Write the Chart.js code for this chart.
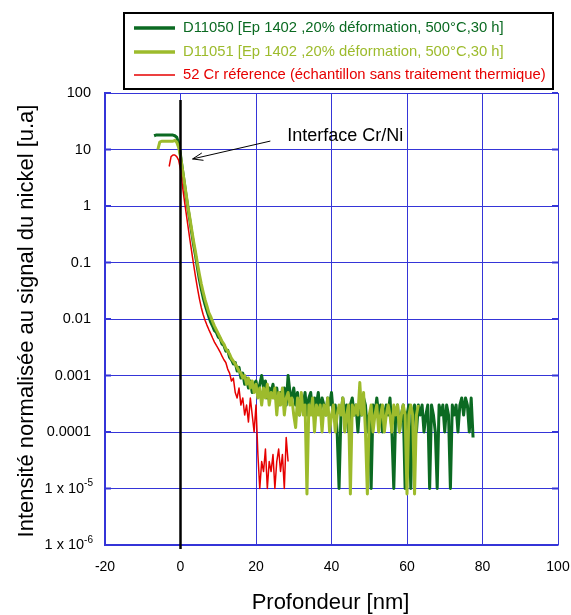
<!DOCTYPE html>
<html>
<head>
<meta charset="utf-8">
<script src="https://cdn.jsdelivr.net/npm/chart.js@4.4.1/dist/chart.umd.min.js"></script>
<style>
  html, body { margin: 0; padding: 0; background: #fff; }
  canvas { display: block; }
</style>
</head>
<body>
<canvas id="profileChart" width="571" height="615"></canvas>
<script>
// Depth profiles, one sample every 0.5 nm
const depthStep = 0.5;
const d11050Start = -7;
const d11051Start = -6;
const cr52Start = -3;

const d11050 = [
  17.5, 18, 18, 18, 18, 18, 18, 18, 18, 18, 18, 17.5, 16.5, 13,
  8, 4.5, 2.6, 1.5, 0.9, 0.55, 0.33, 0.2, 0.13, 0.08, 0.05, 0.034, 0.024, 0.018, 0.014, 0.011,
  0.0088, 0.0075, 0.0062, 0.0058, 0.0048, 0.0045, 0.0036, 0.0034, 0.0027, 0.0028, 0.0021, 0.0019,
  0.0016, 0.0017, 0.0012, 0.0014, 0.0009, 0.0011, 0.0007, 0.0009, 0.0006, 0.0008, 0.0005, 0.0007,
  0.0008, 0.0005, 0.0007, 0.001, 0.0006, 0.0008, 0.0004, 0.0006, 0.0005, 0.0007, 0.0004, 0.0006,
  0.0003, 0.0005, 0.0004, 0.0006, 0.0003, 0.001, 0.0005, 0.0004, 0.0006, 0.0003, 0.0005, 0.0002,
  0.0004, 0.0003, 0.0005, 0.0002, 0.0004, 0.0005, 0.0002, 0.0004, 0.0003, 0.0005, 0.0002, 0.0004,
  0.0003, 0.0002, 0.0004, 0.0003, 0.0005, 0.0002, 0.0003, 0.0001, 0.00001, 0.0002, 0.0004, 0.0002,
  0.0003, 0.0001, 0.0003, 0.0004, 0.0002, 0.0003, 0.0001, 0.0003, 0.0002, 0.0004, 0.0003, 0.0001,
  0.0002, 0.00001, 0.0003, 0.0002, 0.0004, 0.0002, 0.0003, 0.0001, 0.0002, 0.0003, 0.0002, 0.0004,
  0.0001, 0.00001, 0.0002, 0.0003, 0.0001, 0.0002, 0.0003, 0.00001, 0.0002, 0.0003, 0.00001, 0.0002,
  0.0003, 0.0001, 0.0003, 0.0002, 0.0003, 0.0001, 0.0002, 0.0003, 0.00001, 0.0003, 0.0002, 0.0001,
  0.00001, 0.0003, 0.0002, 0.0003, 0.0001, 0.0003, 0.0002, 0.00001, 0.0003, 0.0002, 0.0003, 0.0001,
  0.0003, 0.0004, 0.0002, 0.0004, 0.0003, 0.0001, 0.0004, 0.00008
];

const d11051 = [
  10, 13.5, 14, 14, 14, 14, 14, 14, 14, 14.5, 13.5, 11,
  7.5, 4.5, 2.7, 1.6, 0.95, 0.6, 0.37, 0.23, 0.15, 0.095, 0.062, 0.042, 0.03, 0.022, 0.017, 0.013,
  0.011, 0.009, 0.0075, 0.0064, 0.0055, 0.0047, 0.004, 0.0036, 0.003, 0.0027, 0.0024, 0.002,
  0.0018, 0.0016, 0.0014, 0.0012, 0.0011, 0.0009, 0.001, 0.0007, 0.0009, 0.0006, 0.0008, 0.0005,
  0.0007, 0.0004, 0.0006, 0.0003, 0.0006, 0.0004, 0.0007, 0.0003, 0.0005, 0.0004, 0.0006, 0.0002,
  0.0005, 0.0003, 0.0006, 0.0002, 0.0004, 0.0005, 0.0003, 0.0004, 0.0002, 0.00012, 0.0004, 0.0002,
  0.0005, 0.0002, 0.0003, 0.000008, 0.0003, 0.0002, 0.0004, 0.0001, 0.0003, 0.0002, 0.0003, 0.0001,
  0.0003, 0.0002, 0.0004, 0.0001, 0.0002, 0.0003, 0.0001, 0.0002, 0.0003, 0.0002, 0.0004, 0.0001,
  0.0002, 0.0003, 0.000008, 0.0003, 0.0002, 0.0003, 0.0002, 0.00075, 0.0002, 0.0005, 0.0001, 0.000008,
  0.0002, 0.0003, 0.0001, 0.0002, 0.0003, 0.0001, 0.0002, 0.0003, 0.0001, 0.0002, 0.0003, 0.0002,
  0.0001, 0.0003, 0.0002, 0.0003, 0.0001, 0.0002, 0.0003, 0.0002, 0.000008, 0.0002, 0.0003, 0.0002,
  0.000008, 0.0002, 0.0003
];

const cr52Ref = [
  5, 7.5, 8, 8, 7.5, 6.5,
  4.5, 2.3, 1.3, 0.75, 0.43, 0.25, 0.15, 0.09, 0.055, 0.035, 0.023, 0.016, 0.012, 0.0095,
  0.0078, 0.0065, 0.0055, 0.0046, 0.0039, 0.0034, 0.003, 0.0026, 0.0022, 0.0019, 0.0017, 0.0013,
  0.0011, 0.0008, 0.0009, 0.0005, 0.0004, 0.0006, 0.0003, 0.0004, 0.0002, 0.0003, 0.00015, 0.0004,
  0.0002, 0.0001, 0.0003, 0.00004, 0.00001, 0.00003, 0.00002, 0.00005, 0.00001, 0.00003, 0.00002,
  0.00004, 0.00001, 0.00003, 0.00005, 0.00002, 0.00004, 0.00001, 0.00008, 0.00003
];

const seriesLabels = [
  'D11050 [Ep 1402 ,20% déformation, 500°C,30 h]',
  'D11051 [Ep 1402 ,20% déformation, 500°C,30 h]',
  '52 Cr réference (échantillon sans traitement thermique)'
];
const seriesColors = ['#0b6a22', '#9dbb2c', '#e60000'];

const xTicks = [-20, 0, 20, 40, 60, 80, 100];
const yTicks = [1e-6, 1e-5, 1e-4, 1e-3, 0.01, 0.1, 1, 10, 100];
const yTickText = ['1 x 10', '1 x 10', '0.0001', '0.001', '0.01', '0.1', '1', '10', '100'];
const yTickSup = ['-6', '-5', '', '', '', '', '', '', ''];

const interfaceDepth = 0;
const interfaceLabel = 'Interface Cr/Ni';

function toPoints(start, values) {
  return values.map((v, i) => ({ x: start + i * depthStep, y: v }));
}

const FONT = '"Liberation Sans", Arial, sans-serif';
const gridBlue = '#3535d8';

// Axis labels, legend box and the interface marker
const decorations = {
  id: 'decorations',
  afterDraw(chart) {
    const ctx = chart.ctx;
    const xs = chart.scales.x;
    const ys = chart.scales.y;
    const area = chart.chartArea;
    ctx.save();

    // small inner tick marks on the left and right edges
    ctx.strokeStyle = gridBlue;
    ctx.lineWidth = 2;
    ctx.beginPath();
    yTicks.forEach(t => {
      const py = ys.getPixelForValue(t);
      ctx.moveTo(area.left, py); ctx.lineTo(area.left + 6, py);
      ctx.moveTo(area.right - 6, py); ctx.lineTo(area.right, py);
    });
    ctx.stroke();

    ctx.fillStyle = '#000';

    // x tick labels
    ctx.font = '14px ' + FONT;
    ctx.textAlign = 'center';
    ctx.textBaseline = 'middle';
    xTicks.forEach(t => ctx.fillText(String(t), xs.getPixelForValue(t), area.bottom + 22));

    // y tick labels
    ctx.textAlign = 'right';
    yTicks.forEach((t, i) => {
      const py = ys.getPixelForValue(t);
      let right = area.left - 14;
      if (yTickSup[i]) {
        right = area.left - 12;
        ctx.font = '10px ' + FONT;
        ctx.fillText(yTickSup[i], right, py - 5);
        right -= ctx.measureText(yTickSup[i]).width;
      }
      ctx.font = '14.5px ' + FONT;
      ctx.fillText(yTickText[i], right, py);
    });

    // axis titles
    ctx.font = '22px ' + FONT;
    ctx.textAlign = 'center';
    ctx.fillText('Profondeur [nm]', (area.left + area.right) / 2 - 1, 603);
    ctx.save();
    ctx.translate(27, (area.top + area.bottom) / 2 + 2);
    ctx.rotate(-Math.PI / 2);
    ctx.fillText('Intensité normalisée au signal du nickel [u.a]', 0, 0);
    ctx.restore();

    // interface line
    const ix = xs.getPixelForValue(interfaceDepth);
    ctx.strokeStyle = '#000';
    ctx.lineWidth = 2.5;
    ctx.beginPath();
    ctx.moveTo(ix, ys.getPixelForValue(75));
    ctx.lineTo(ix, area.bottom + 4);
    ctx.stroke();

    // interface arrow + label
    const ax0 = xs.getPixelForValue(23.8), ay0 = ys.getPixelForValue(14.1);
    const ax1 = xs.getPixelForValue(3.2), ay1 = ys.getPixelForValue(6.8);
    ctx.lineWidth = 1;
    ctx.beginPath();
    ctx.moveTo(ax0, ay0);
    ctx.lineTo(ax1, ay1);
    const ang = Math.atan2(ay1 - ay0, ax1 - ax0);
    const hl = 11;
    ctx.moveTo(ax1 - hl * Math.cos(ang - 0.35), ay1 - hl * Math.sin(ang - 0.35));
    ctx.lineTo(ax1, ay1);
    ctx.lineTo(ax1 - hl * Math.cos(ang + 0.35), ay1 - hl * Math.sin(ang + 0.35));
    ctx.stroke();
    ctx.font = '18px ' + FONT;
    ctx.textAlign = 'left';
    ctx.fillText(interfaceLabel, xs.getPixelForValue(28.3), ys.getPixelForValue(17));

    // legend box
    ctx.lineWidth = 2;
    ctx.strokeStyle = '#000';
    ctx.strokeRect(124, 13, 429, 76);
    ctx.font = '14.8px ' + FONT;
    const rowY = [28, 52, 75];
    const widths = [3.5, 3.5, 1.5];
    seriesLabels.forEach((lab, i) => {
      ctx.strokeStyle = seriesColors[i];
      ctx.lineWidth = widths[i];
      ctx.beginPath();
      ctx.moveTo(134, rowY[i]);
      ctx.lineTo(175, rowY[i]);
      ctx.stroke();
      ctx.fillStyle = seriesColors[i];
      ctx.fillText(lab, 183, rowY[i]);
    });
    ctx.restore();
  }
};

const chart = new Chart(document.getElementById('profileChart'), {
  type: 'line',
  data: {
    datasets: [
      {
        label: seriesLabels[0],
        data: toPoints(d11050Start, d11050),
        borderColor: seriesColors[0],
        borderWidth: 3,
        order: 2
      },
      {
        label: seriesLabels[1],
        data: toPoints(d11051Start, d11051),
        borderColor: seriesColors[1],
        borderWidth: 3,
        order: 1
      },
      {
        label: seriesLabels[2],
        data: toPoints(cr52Start, cr52Ref),
        borderColor: seriesColors[2],
        borderWidth: 1.5,
        order: 0
      }
    ]
  },
  options: {
    responsive: false,
    animation: false,
    events: [],
    layout: { padding: { left: 0, right: 13, top: 93, bottom: 0 } },
    elements: {
      point: { radius: 0 },
      line: { tension: 0, borderJoinStyle: 'round' }
    },
    plugins: {
      legend: { display: false },
      tooltip: { enabled: false }
    },
    scales: {
      x: {
        type: 'linear',
        min: -20,
        max: 100,
        ticks: { display: false, stepSize: 20 },
        grid: { color: gridBlue, lineWidth: 1, drawTicks: false },
        border: { color: gridBlue, width: 1.5 },
        afterFit: s => { s.height = 70; }
      },
      y: {
        type: 'logarithmic',
        min: 1e-6,
        max: 100,
        afterBuildTicks: s => { s.ticks = yTicks.map(v => ({ value: v })); },
        ticks: { display: false },
        grid: { color: gridBlue, lineWidth: 1, drawTicks: false },
        border: { color: gridBlue, width: 1.5 },
        afterFit: s => { s.width = 105; }
      }
    }
  },
  plugins: [decorations]
});
</script>
</body>
</html>
